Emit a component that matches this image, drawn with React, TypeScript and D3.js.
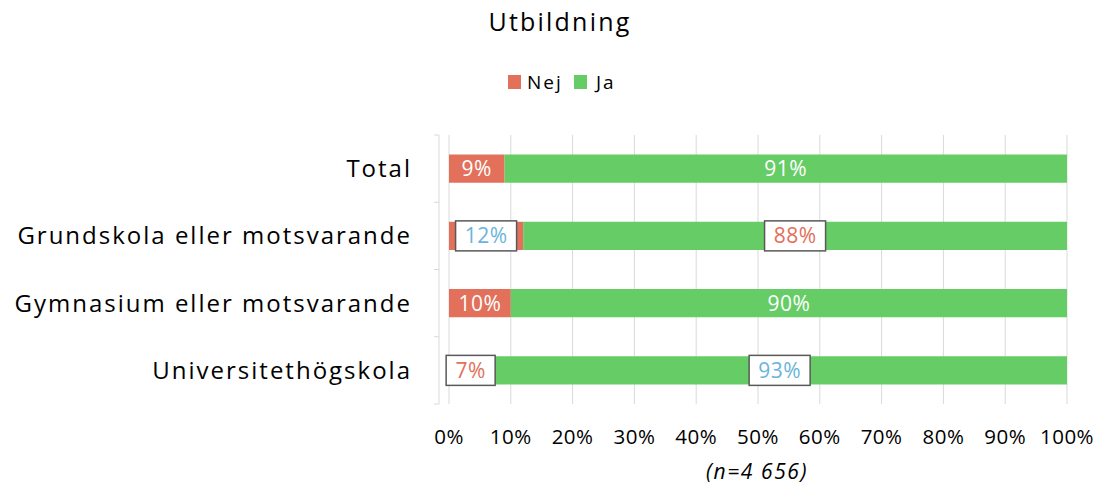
import React from "react";
import * as d3 from "d3";

const categories = ["Total", "Grundskola eller motsvarande", "Gymnasium eller motsvarande", "Universitethögskola"];
const nej = [9, 12, 10, 7];
const ja = [91, 88, 90, 93];
const ticks = [0, 10, 20, 30, 40, 50, 60, 70, 80, 90, 100];
// labels drawn boxed (white fill) per row: [nejBoxed, jaBoxed]
const boxed = [[false, false], [true, true], [false, false], [true, true]];
const boxColors = [["", ""], ["#6AB4DC", "#E2705A"], ["", ""], ["#E2705A", "#6AB4DC"]];

const RED = "#E2705A";
const GREEN = "#66CC66";
const FONT = "'Open Sans', 'Noto Sans', sans-serif";

export default function App() {
  const W = 1096, H = 486;
  const x = d3.scaleLinear().domain([0, 100]).range([449, 1067]);
  const y = d3.scaleBand().domain(categories).range([135, 404]).paddingInner(0.58).paddingOuter(0.29);
  const bh = y.bandwidth();
  const stack = categories.map((c, i) => ({ c, i, segs: [
    { key: "Nej", v: nej[i], x0: 0, x1: nej[i], color: RED },
    { key: "Ja", v: ja[i], x0: nej[i], x1: nej[i] + ja[i], color: GREEN },
  ] }));
  const bounds = [0, 1, 2, 3, 4].map(k => 135 + k * (269 / 4));
  return (
    <svg width={W} height={H} style={{ position: "absolute", left: 0, top: 0, fontFamily: FONT }}>
      <rect width={W} height={H} fill="#fff" />
      <text x={560} y={31} textAnchor="middle" fontSize={25} fill="#000" letterSpacing={2.2}>Utbildning</text>
      <rect x={508} y={75} width={13} height={14} fill={RED} />
      <text x={527} y={89} fontSize={19} fill="#000" letterSpacing={2}>Nej</text>
      <rect x={574} y={75} width={13} height={14} fill={GREEN} />
      <text x={596} y={89} fontSize={19} fill="#000" letterSpacing={2}>Ja</text>
      {ticks.map(t => (
        <line key={t} x1={x(t)} x2={x(t)} y1={135} y2={404} stroke="#d9d9d9" strokeWidth={1} />
      ))}
      <line x1={439} x2={439} y1={135} y2={404} stroke="#d9d9d9" />
      {bounds.map((b, k) => (
        <line key={k} x1={434} x2={439} y1={b} y2={b} stroke="#d9d9d9" />
      ))}
      {stack.map(row => (
        <g key={row.c}>
          {row.segs.map((s, j) => (
            <rect key={s.key} x={x(s.x0)} y={y(row.c)!} width={x(s.x1) - x(s.x0)} height={bh} fill={s.color} />
          ))}
        </g>
      ))}
      {stack.map(row => row.segs.map((s, j) => {
        const cx = (x(s.x0) + x(s.x1)) / 2;
        const cy = y(row.c)! + bh / 2;
        const label = `${s.v}%`;
        if (boxed[row.i][j]) {
          const w = label.length === 3 ? 61 : 49;
          return (
            <g key={row.c + s.key}>
              <rect x={cx - w / 2} y={cy - 15} width={w} height={30} fill="#fff" stroke="#595959" strokeWidth={1.5} />
              <text x={cx} y={cy + 7.5} textAnchor="middle" fontSize={21} fill={boxColors[row.i][j]} letterSpacing={0.5}>{label}</text>
            </g>
          );
        }
        return <text key={row.c + s.key} x={cx} y={cy + 7.5} textAnchor="middle" fontSize={21} fill="#fff" letterSpacing={0.5}>{label}</text>;
      }))}
      {categories.map(c => (
        <text key={c} x={412} y={y(c)! + bh / 2 + 8.5} textAnchor="end" fontSize={24} fill="#000" letterSpacing={2}>{c}</text>
      ))}
      {ticks.map(t => (
        <text key={t} x={x(t)} y={444} textAnchor="middle" fontSize={20.5} fill="#000" letterSpacing={0.5}>{t}%</text>
      ))}
      <text x={757} y={479} textAnchor="middle" fontSize={21} fontStyle="italic" fill="#000" letterSpacing={1.6}>(n=4 656)</text>
    </svg>
  );
}
